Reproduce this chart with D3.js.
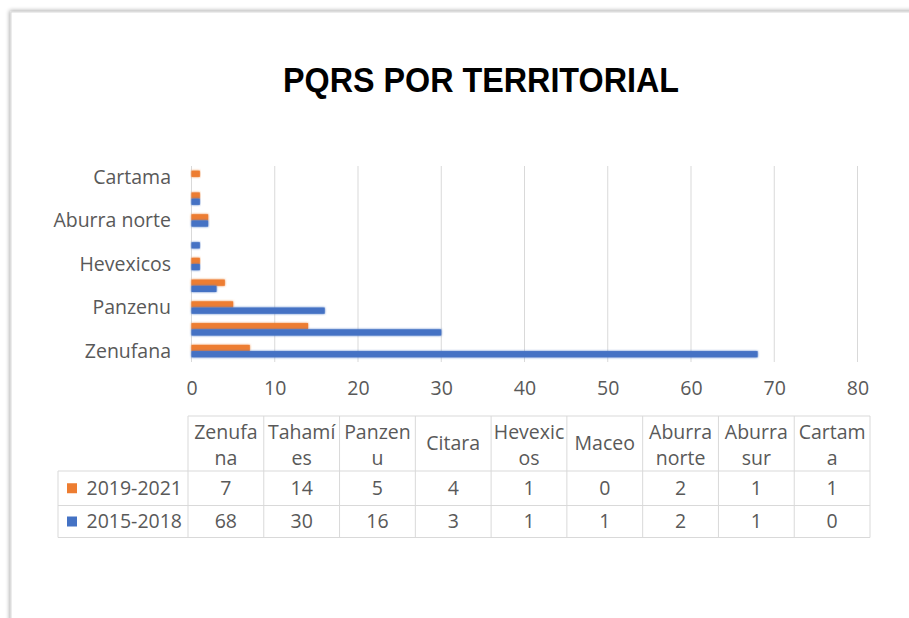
<!DOCTYPE html>
<html>
<head>
<meta charset="utf-8">
<script src="https://cdn.jsdelivr.net/npm/d3@7"></script>
<style>
  html, body { margin: 0; padding: 0; background: #fff; }
  svg { display: block; }
</style>
</head>
<body>
<svg id="chart" width="909" height="618"></svg>
<script>
// ---- data ----
const categories = ["Zenufana", "Tahamíes", "Panzenu", "Citara", "Hevexicos", "Maceo", "Aburra norte", "Aburra sur", "Cartama"];
const headerLines = [["Zenufa", "na"], ["Tahamí", "es"], ["Panzen", "u"], ["Citara"], ["Hevexic", "os"], ["Maceo"], ["Aburra", "norte"], ["Aburra", "sur"], ["Cartam", "a"]];
const seriesNames = ["2019-2021", "2015-2018"];
const values2019 = [7, 14, 5, 4, 1, 0, 2, 1, 1];
const values2015 = [68, 30, 16, 3, 1, 1, 2, 1, 0];
const xTicks = [0, 10, 20, 30, 40, 50, 60, 70, 80];
const colors = { "2019-2021": "#ED7D31", "2015-2018": "#4472C4" };
const title = "PQRS POR TERRITORIAL";

const seriesValues = { "2019-2021": values2019, "2015-2018": values2015 };
const rows = categories.map((c, i) => ({ cat: c, "2019-2021": values2019[i], "2015-2018": values2015[i] }));

const svg = d3.select("#chart");
const font = "'Open Sans', 'Liberation Sans', sans-serif";
const fs = 19.5;
const textGray = "#595959";

// frame with shadow
const defs = svg.append("defs");
const f = defs.append("filter").attr("id", "sh").attr("x", "-5%").attr("y", "-5%").attr("width", "110%").attr("height", "110%");
f.append("feGaussianBlur").attr("in", "SourceAlpha").attr("stdDeviation", 2);
f.append("feOffset").attr("dx", -1).attr("dy", -1).attr("result", "b");
f.append("feComponentTransfer").append("feFuncA").attr("type", "linear").attr("slope", 0.35);
const m = f.append("feMerge");
m.append("feMergeNode");
m.append("feMergeNode").attr("in", "SourceGraphic");

const gf = defs.append("filter").attr("id", "glow").attr("x", "-10%").attr("y", "-50%").attr("width", "120%").attr("height", "200%");
gf.append("feGaussianBlur").attr("in", "SourceGraphic").attr("stdDeviation", 0.8).attr("result", "bl");
const gm = gf.append("feMerge");
gm.append("feMergeNode").attr("in", "bl");
gm.append("feMergeNode").attr("in", "SourceGraphic");

svg.append("rect").attr("x", 11).attr("y", 12).attr("width", 940).attr("height", 640)
  .attr("fill", "#fff").attr("stroke", "#d9d9d9").attr("stroke-width", 1).attr("filter", "url(#sh)");

// title
svg.append("text").attr("x", 481).attr("y", 92).attr("text-anchor", "middle")
  .attr("font-family", "'Liberation Sans Narrow', 'Arial Narrow', 'Liberation Sans', sans-serif")
  .attr("font-weight", "bold").attr("font-size", 35).attr("fill", "#000")
  .attr("textLength", 396).attr("lengthAdjust", "spacingAndGlyphs")
  .text(title);

// scales
const x = d3.scaleLinear().domain([0, 80]).range([191.5, 857.5]);
const y = d3.scaleBand().domain(categories).range([362, 166]).paddingInner(0.43).paddingOuter(0.215);
const y1 = d3.scaleBand().domain(seriesNames).range([0, y.bandwidth()]);

// gridlines
svg.append("g").selectAll("line").data(xTicks).join("line")
  .attr("x1", d => x(d)).attr("x2", d => x(d)).attr("y1", 166).attr("y2", 362)
  .attr("stroke", "#d9d9d9").attr("stroke-width", 1);

// bars
const groups = svg.append("g").selectAll("g").data(rows).join("g")
  .attr("transform", d => `translate(0,${y(d.cat)})`);
groups.selectAll("rect").data(d => seriesNames.map(s => ({ s, v: d[s] }))).join("rect")
  .attr("x", x(0)).attr("y", d => y1(d.s)).attr("height", y1.bandwidth())
  .attr("width", d => x(d.v) - x(0)).attr("fill", d => colors[d.s])
  .attr("filter", "url(#glow)");

// y axis labels (every other category)
const yAxis = d3.axisLeft(y).tickValues(categories.filter((c, i) => i % 2 === 0)).tickSize(0).tickPadding(0);
const ya = svg.append("g").attr("transform", "translate(171,0)").call(yAxis);
ya.select(".domain").remove();
ya.selectAll("text").attr("font-family", font).attr("font-size", fs).attr("fill", textGray).attr("dy", "0.35em");

// x axis labels
const xAxis = d3.axisBottom(x).tickValues(xTicks).tickSize(0).tickPadding(0);
const xa = svg.append("g").attr("transform", "translate(0,381)").call(xAxis);
xa.select(".domain").remove();
xa.selectAll("text").attr("font-family", font).attr("font-size", fs).attr("fill", textGray).attr("dy", "0.71em");

// data table
const colX = d3.scaleBand().domain(categories).range([188, 870]);
const tTop = 416, hBot = 471, r1Bot = 505.5, r2Bot = 537.5, legLeft = 58;
const tg = svg.append("g");
const lc = "#d9d9d9";
// horizontal lines
tg.append("line").attr("x1", colX.range()[0]).attr("x2", 870).attr("y1", tTop).attr("y2", tTop).attr("stroke", lc);
[hBot, r1Bot, r2Bot].forEach(yy => tg.append("line").attr("x1", legLeft).attr("x2", 870).attr("y1", yy).attr("y2", yy).attr("stroke", lc));
// vertical lines
tg.append("line").attr("x1", legLeft).attr("x2", legLeft).attr("y1", hBot).attr("y2", r2Bot).attr("stroke", lc);
categories.forEach(c => tg.append("line").attr("x1", colX(c)).attr("x2", colX(c)).attr("y1", tTop).attr("y2", r2Bot).attr("stroke", lc));
tg.append("line").attr("x1", 870).attr("x2", 870).attr("y1", tTop).attr("y2", r2Bot).attr("stroke", lc);

// header text
categories.forEach((c, i) => {
  const lines = headerLines[i];
  const cx = colX(c) + colX.bandwidth() / 2;
  const t = tg.append("text").attr("text-anchor", "middle").attr("font-family", font)
    .attr("font-size", fs).attr("fill", textGray);
  if (lines.length === 1) {
    t.attr("x", cx).attr("y", (tTop + hBot) / 2).attr("dy", "0.35em").text(lines[0]);
  } else {
    t.append("tspan").attr("x", cx).attr("y", 439).text(lines[0]);
    t.append("tspan").attr("x", cx).attr("y", 465).text(lines[1]);
  }
});

// value rows
const rowCenters = { "2019-2021": (hBot + r1Bot) / 2, "2015-2018": (r1Bot + r2Bot) / 2 };
seriesNames.forEach(s => {
  const cy = rowCenters[s];
  tg.append("rect").attr("x", 67).attr("y", cy - 5).attr("width", 10).attr("height", 10).attr("fill", colors[s]);
  tg.append("text").attr("x", 182).attr("y", cy).attr("dy", "0.35em").attr("text-anchor", "end")
    .attr("font-family", font).attr("font-size", fs).attr("fill", textGray).text(s);
  tg.selectAll(null).data(seriesValues[s]).join("text")
    .attr("x", (d, i) => colX(categories[i]) + colX.bandwidth() / 2).attr("y", cy).attr("dy", "0.35em")
    .attr("text-anchor", "middle").attr("font-family", font).attr("font-size", fs).attr("fill", textGray)
    .text(d => d);
});
</script>
</body>
</html>
